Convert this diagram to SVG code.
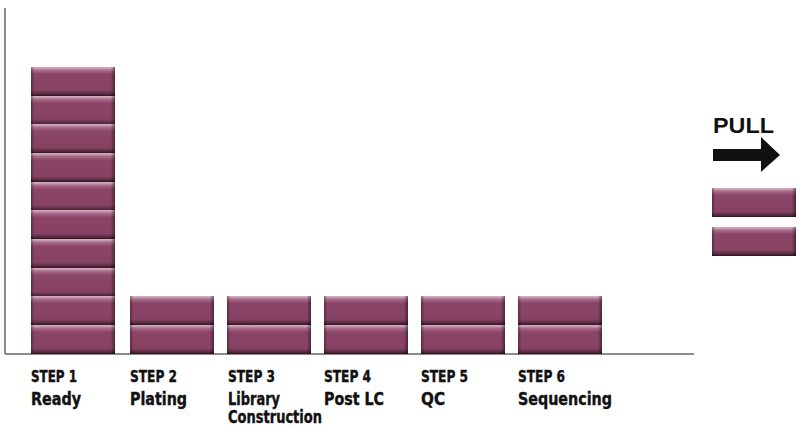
<svg xmlns="http://www.w3.org/2000/svg" width="800" height="430" viewBox="0 0 800 430">
<defs>
<linearGradient id="gv" x1="0" y1="0" x2="0" y2="1">
<stop offset="0" stop-color="#d9b9c6"/>
<stop offset="0.12" stop-color="#a76a88"/>
<stop offset="0.25" stop-color="#8b4566"/>
<stop offset="0.8" stop-color="#874263"/>
<stop offset="0.92" stop-color="#5e2c44"/>
<stop offset="1" stop-color="#2a1420"/>
</linearGradient>
<linearGradient id="gh" x1="0" y1="0" x2="1" y2="0">
<stop offset="0" stop-color="#000" stop-opacity="0.35"/>
<stop offset="0.04" stop-color="#000" stop-opacity="0"/>
<stop offset="0.95" stop-color="#000" stop-opacity="0"/>
<stop offset="1" stop-color="#000" stop-opacity="0.45"/>
</linearGradient>
<g id="blk">
<rect x="0" y="0" width="84" height="29" fill="url(#gv)"/>
<rect x="0" y="0" width="84" height="29" fill="url(#gh)"/>
</g>
<style>
.lab{font-family:"Liberation Sans Narrow","DejaVu Sans Condensed","Liberation Sans",sans-serif;font-weight:bold;fill:#111;stroke:#111;stroke-width:0.4px;}
.s{font-size:16px;}
.n{font-size:18.5px;}
.ax{stroke:#666;stroke-width:1.5;fill:none;}
</style>
</defs>
<rect width="800" height="430" fill="#fff"/>
<g id="axes">
<line class="ax" x1="5" y1="8" x2="5" y2="354"/>
<line class="ax" x1="5" y1="354" x2="694" y2="354"/>
</g>
<g id="step1">
<use href="#blk" x="31" y="67"/>
<use href="#blk" x="31" y="96"/>
<use href="#blk" x="31" y="124"/>
<use href="#blk" x="31" y="153"/>
<use href="#blk" x="31" y="182"/>
<use href="#blk" x="31" y="210"/>
<use href="#blk" x="31" y="239"/>
<use href="#blk" x="31" y="268"/>
<use href="#blk" x="31" y="296"/>
<use href="#blk" x="31" y="325"/>
<text class="lab s" x="31" y="382" textLength="46" lengthAdjust="spacingAndGlyphs">STEP 1</text>
<text class="lab n" x="31" y="405" textLength="50" lengthAdjust="spacingAndGlyphs">Ready</text>
</g>
<g id="step2">
<use href="#blk" x="130" y="296"/>
<use href="#blk" x="130" y="325"/>
<text class="lab s" x="130" y="382" textLength="47" lengthAdjust="spacingAndGlyphs">STEP 2</text>
<text class="lab n" x="130" y="405" textLength="57" lengthAdjust="spacingAndGlyphs">Plating</text>
</g>
<g id="step3">
<use href="#blk" x="227" y="296"/>
<use href="#blk" x="227" y="325"/>
<text class="lab s" x="228" y="382" textLength="47" lengthAdjust="spacingAndGlyphs">STEP 3</text>
<text class="lab n" x="228" y="405" textLength="52" lengthAdjust="spacingAndGlyphs">Library</text>
<text class="lab n" x="228" y="423" textLength="94" lengthAdjust="spacingAndGlyphs">Construction</text>
</g>
<g id="step4">
<use href="#blk" x="324" y="296"/>
<use href="#blk" x="324" y="325"/>
<text class="lab s" x="324" y="382" textLength="47" lengthAdjust="spacingAndGlyphs">STEP 4</text>
<text class="lab n" x="324" y="405" textLength="60" lengthAdjust="spacingAndGlyphs">Post LC</text>
</g>
<g id="step5">
<use href="#blk" x="421" y="296"/>
<use href="#blk" x="421" y="325"/>
<text class="lab s" x="421" y="382" textLength="47" lengthAdjust="spacingAndGlyphs">STEP 5</text>
<text class="lab n" x="421" y="405" textLength="24" lengthAdjust="spacingAndGlyphs">QC</text>
</g>
<g id="step6">
<use href="#blk" x="518" y="296"/>
<use href="#blk" x="518" y="325"/>
<text class="lab s" x="518" y="382" textLength="47" lengthAdjust="spacingAndGlyphs">STEP 6</text>
<text class="lab n" x="518" y="405" textLength="94" lengthAdjust="spacingAndGlyphs">Sequencing</text>
</g>
<g id="pull">
<text x="713" y="133" font-family="Liberation Sans, Arial, sans-serif" font-weight="bold" font-size="22" fill="#111" textLength="61" lengthAdjust="spacingAndGlyphs">PULL</text>
<polygon points="713,149 761,149 761,137 780,155 761,172 761,161 713,161" fill="#111"/>
<use href="#blk" x="712" y="188"/>
<use href="#blk" x="712" y="227"/>
</g>
</svg>
